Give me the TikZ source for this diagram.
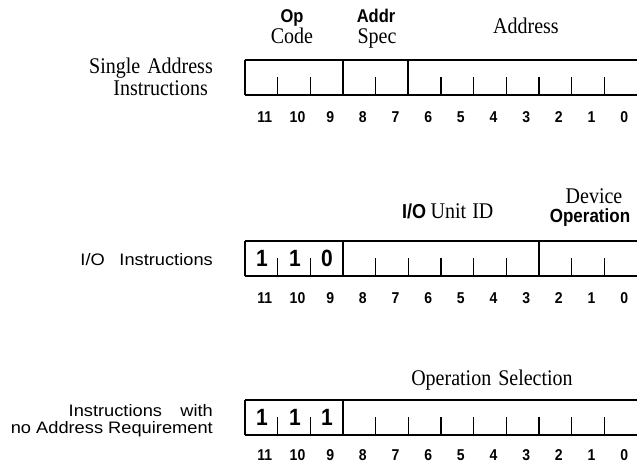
\documentclass[tikz,border=0pt]{standalone}
\usepackage{graphicx}
\usepackage{fontspec}
\setmainfont{Liberation Serif}
\newfontfamily\hv{Liberation Sans}
% printed type in this figure is set slightly taller than wide
\newcommand\tallt[1]{\scalebox{1}[1.12]{#1}}
% the sans row captions are set a little wide
\newcommand\widet[1]{\scalebox{1.1}[1]{#1}}
\begin{document}
\begin{tikzpicture}[x=1pt,y=-1pt,
  serif/.style={font=\fontsize{20}{20}\selectfont, inner sep=0pt, anchor=base},
  sidelab/.style={font=\hv\fontsize{16.6}{16.6}\selectfont, inner sep=0pt, anchor=base east},
  headsans/.style={font=\hv\bfseries\fontsize{16.5}{16.5}\selectfont, inner sep=0pt, anchor=base},
  bitnum/.style={font=\hv\bfseries\fontsize{14}{14}\selectfont, inner sep=0pt, anchor=base},
  fixedbit/.style={font=\hv\bfseries\fontsize{21}{21}\selectfont, inner sep=0pt, anchor=base},
  frame/.style={line width=1.7pt},
  tickmark/.style={line width=1.3pt},
]
\useasboundingbox (0,0) rectangle (637,463);
\clip (0,0) rectangle (637,463);
\def\cw{32.667}
\def\xl{245}

% ---------- Single address instructions ----------
\node[serif, anchor=base east] (sa1) at (213,73) {\tallt{Single\hspace{0.35em}Address}};
\node[serif, anchor=base east] (sa2) at (208,95.5) {\tallt{Instructions}};
\node[headsans] (op) at (292,23) {\tallt{Op}};
\node[serif] (code) at (292,43) {\tallt{Code}};
\node[headsans] (addr) at (376,23) {\tallt{Addr}};
\node[serif] (spec) at (377,43) {\tallt{Spec}};
\node[serif] (adr) at (526,33) {\tallt{Address}};
\draw[frame] (\xl,60) -- (650,60) (\xl,95) -- (650,95) (\xl,60) -- (\xl,95);
\foreach \i in {3,5} \draw[frame] (\xl+\i*\cw,60) -- (\xl+\i*\cw,95);
\foreach \i in {1,2,4,6,7,8,9,10,11} \draw[tickmark] (\xl+\i*\cw,95) -- (\xl+\i*\cw,77);
\foreach \i in {0,...,11} {
  \pgfmathtruncatemacro\b{11-\i}
  \node[bitnum] (ba\i) at (\xl+\i*\cw+0.5*\cw+3.5,122) {\tallt{\b}};
}

% ---------- I/O instructions ----------
\node[sidelab] (io) at (213,265.5) {\widet{I/O\hspace{0.8em}Instructions}};
\node[inner sep=0pt, anchor=base west] (iounit) at (402,218) {\tallt{{\hv\bfseries\fontsize{18}{18}\selectfont I/O}\hspace{0.45em}{\fontsize{20}{20}\selectfont Unit\hspace{0.3em}ID}}};
\node[serif] (dev) at (594,203) {\tallt{Device}};
\node[headsans, font=\hv\bfseries\fontsize{17}{17}\selectfont] (devop) at (590,222) {\tallt{Operation}};
\draw[frame] (\xl,241) -- (650,241) (\xl,276) -- (650,276) (\xl,241) -- (\xl,276);
\foreach \i in {3,9} \draw[frame] (\xl+\i*\cw,241) -- (\xl+\i*\cw,276);
\foreach \i in {1,2,4,5,6,7,8,10,11} \draw[tickmark] (\xl+\i*\cw,276) -- (\xl+\i*\cw,258);
\node[fixedbit] (f2a) at (262,266) {\tallt{1}};
\node[fixedbit] (f2b) at (295,266) {\tallt{1}};
\node[fixedbit] (f2c) at (327,266) {\tallt{0}};
\foreach \i in {0,...,11} {
  \pgfmathtruncatemacro\b{11-\i}
  \node[bitnum] (bb\i) at (\xl+\i*\cw+0.5*\cw+3.5,303) {\tallt{\b}};
}

% ---------- Instructions with no address ----------
\node[sidelab] (nw1) at (213,416) {\widet{Instructions\hspace{1em}with}};
\node[sidelab] (nw2) at (213,433) {\widet{no Address Requirement}};
\node[serif] (opsel) at (492,385) {\tallt{Operation\hspace{0.35em}Selection}};
\draw[frame] (\xl,400) -- (650,400) (\xl,435) -- (650,435) (\xl,400) -- (\xl,435);
\draw[frame] (\xl+3*\cw,400) -- (\xl+3*\cw,435);
\foreach \i in {1,2,4,5,6,7,8,9,10,11} \draw[tickmark] (\xl+\i*\cw,435) -- (\xl+\i*\cw,417);
\node[fixedbit] (f3a) at (262,425) {\tallt{1}};
\node[fixedbit] (f3b) at (295,425) {\tallt{1}};
\node[fixedbit] (f3c) at (327,425) {\tallt{1}};
\foreach \i in {0,...,11} {
  \pgfmathtruncatemacro\b{11-\i}
  \node[bitnum] (bc\i) at (\xl+\i*\cw+0.5*\cw+3.5,460) {\tallt{\b}};
}
\end{tikzpicture}
\end{document}
